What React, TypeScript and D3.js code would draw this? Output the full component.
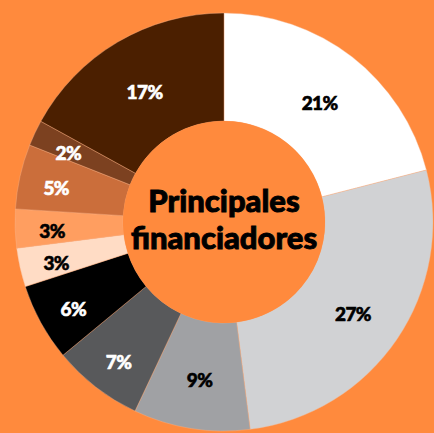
import * as d3 from 'd3';
import * as React from 'react';

const { useRef, useEffect } = React;

const width = 434;
const height = 433;
const cx = 224;
const cy = 222;
const outerR = 209;
const innerR = 101;

// slices clockwise from 12 o'clock
const shares = [21, 27, 9, 7, 6, 3, 3, 5, 2, 17];
const fills = [
  '#ffffff',
  '#d1d2d4',
  '#a0a1a4',
  '#58595b',
  '#000000',
  '#ffdcc5',
  '#ff9e60',
  '#cb6e3b',
  '#7c4120',
  '#4b1f00',
];
const labelColors = [
  '#000', '#000', '#000', '#fff', '#fff', '#000', '#000', '#fff', '#fff', '#fff',
];
const titleLines = ['Principales', 'financiadores'];

const bg = '#ff8a3d';

export default () => {
  const rootRef = useRef<SVGSVGElement>(null);

  useEffect(() => {
    const svg = d3.select(rootRef.current);
    svg.selectAll('*').remove();

    svg
      .append('rect')
      .attr('width', width)
      .attr('height', height)
      .attr('fill', bg);

    const pie = d3
      .pie<number>()
      .sort(null)
      .value(d => d);

    const arcs = pie(shares);

    const arc = d3
      .arc<d3.PieArcDatum<number>>()
      .innerRadius(innerR)
      .outerRadius(outerR);

    const g = svg.append('g').attr('transform', `translate(${cx},${cy})`);

    g.selectAll('path')
      .data(arcs)
      .join('path')
      .attr('d', arc)
      .attr('fill', (d, i) => fills[i])
      .attr('stroke', '#f7b48a')
      .attr('stroke-width', 0.4);

    // thin slices get their labels pushed toward the rim
    const labelPos = (d: d3.PieArcDatum<number>) => {
      const r = d.value <= 7 ? 172 : 156;
      const [x, y] = d3
        .arc<d3.PieArcDatum<number>>()
        .innerRadius(r)
        .outerRadius(r)
        .centroid(d);
      return [x, y + 4];
    };

    g.selectAll('text.lbl')
      .data(arcs)
      .join('text')
      .attr('class', 'lbl')
      .attr('x', d => labelPos(d)[0])
      .attr('y', d => labelPos(d)[1])
      .attr('dy', '0.36em')
      .attr('text-anchor', 'middle')
      .attr('font-family', 'Lato, sans-serif')
      .attr('font-weight', 900)
      .attr('font-size', 19)
      .attr('letter-spacing', -0.6)
      .attr('fill', (d, i) => labelColors[i])
      .attr('stroke', (d, i) => labelColors[i])
      .attr('stroke-width', 0.6)
      .text(d => `${d.value}%`);

    g.append('circle').attr('r', innerR).attr('fill', bg);

    g.selectAll('text.title')
      .data(titleLines)
      .join('text')
      .attr('class', 'title')
      .attr('x', 0)
      .attr('y', (d, i) => -10 + i * 37)
      .attr('text-anchor', 'middle')
      .attr('font-family', 'Lato, sans-serif')
      .attr('font-weight', 900)
      .attr('font-size', 31)
      .attr('letter-spacing', 0)
      .attr('fill', '#000')
      .attr('stroke', '#000')
      .attr('stroke-width', 0.9)
      .text(d => d);
  }, []);

  return (
    <svg
      ref={rootRef}
      width={width}
      height={height}
      style={{ position: 'fixed', top: 0, left: 0, display: 'block' }}
    />
  );
};
